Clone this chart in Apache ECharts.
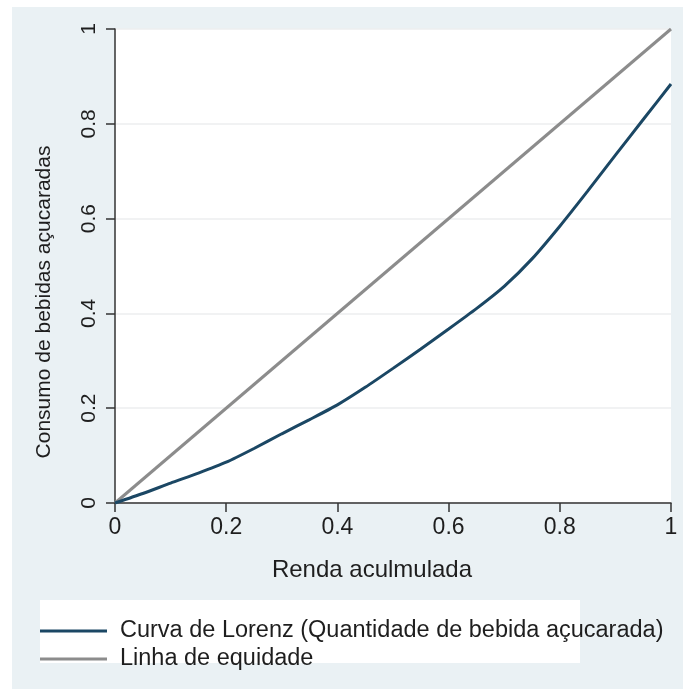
<!DOCTYPE html>
<html>
<head>
<meta charset="utf-8">
<script src="https://cdn.jsdelivr.net/npm/echarts@6/dist/echarts.min.js"></script>
<style>
  html, body { margin: 0; padding: 0; background: #ffffff; }
  #chart { width: 683px; height: 689px; }
</style>
</head>
<body>
<div id="chart"></div>
<script>
// 누적 소득 비율 (x)
const rendaAcumulada = [0, 0.05, 0.1, 0.15, 0.2, 0.25, 0.3, 0.35, 0.4, 0.45, 0.5, 0.55, 0.6, 0.65, 0.7, 0.75, 0.8, 0.85, 0.9, 0.95, 1];
// 로렌츠 곡선 값 (y)
const curvaLorenz = [0, 0.02, 0.042, 0.063, 0.086, 0.115, 0.146, 0.176, 0.207, 0.244, 0.284, 0.325, 0.367, 0.41, 0.457, 0.515, 0.584, 0.658, 0.734, 0.809, 0.884];
// 균등선
const equidadeX = [0, 1];
const equidadeY = [0, 1];

const COLORS = {
  bg:     "#eaf1f4",
  lorenz: "#1b4764",
  equal:  "#8c8c8c",
  axis:   "#333333",
  grid:   "#eceeef",
  text:   "#1e1e1e",
};
const FONT = '"Liberation Sans", Arial, sans-serif';

const fmt = (v) => (v === 0 || v === 1 ? String(v) : v.toFixed(1));

const chart = echarts.init(document.getElementById("chart"), null, { renderer: "canvas" });

chart.setOption({
  backgroundColor: "#ffffff",
  animation: false,
  textStyle: { fontFamily: FONT, color: COLORS.text },
  graphic: [
    { type: "rect", z: -10, shape: { x: 12, y: 7, width: 671, height: 682 }, style: { fill: COLORS.bg } },
    { type: "rect", z: -5, shape: { x: 40, y: 600, width: 540, height: 63 }, style: { fill: "#ffffff" } },
  ],
  grid: {
    left: 115, right: 12, top: 29, bottom: 186,
    show: true, backgroundColor: "#ffffff", borderWidth: 0,
  },
  legend: {
    orient: "vertical",
    left: 35, top: 614,
    icon: "rect",
    itemWidth: 67, itemHeight: 3,
    itemGap: 4,
    textStyle: { fontFamily: FONT, fontSize: 23.5, color: COLORS.text, padding: [0, 0, 0, 8] },
    data: ["Curva de Lorenz (Quantidade de bebida açucarada)", "Linha de equidade"],
  },
  xAxis: {
    type: "value", min: 0, max: 1, interval: 0.2,
    name: "Renda aculmulada",
    nameLocation: "middle", nameGap: 55,
    nameTextStyle: { fontFamily: FONT, fontSize: 24, color: COLORS.text, padding: [0, 42, 0, 0] },
    axisLine: { show: true, lineStyle: { color: COLORS.axis, width: 1.5 } },
    axisTick: { show: true, inside: false, length: 9, lineStyle: { color: COLORS.axis, width: 1.5 } },
    axisLabel: { fontFamily: FONT, fontSize: 23, color: COLORS.text, margin: 13, formatter: fmt },
    splitLine: { show: false },
  },
  yAxis: {
    type: "value", min: 0, max: 1, interval: 0.2,
    name: "Consumo de bebidas açucaradas",
    nameLocation: "middle", nameGap: 60, nameRotate: 90,
    nameTextStyle: { fontFamily: FONT, fontSize: 21, color: COLORS.text, padding: [0, 72, 0, 0] },
    axisLine: { show: true, lineStyle: { color: COLORS.axis, width: 1.5 } },
    axisTick: { show: true, inside: false, length: 9, lineStyle: { color: COLORS.axis, width: 1.5 } },
    axisLabel: { fontFamily: FONT, fontSize: 21, color: COLORS.text, margin: 15, rotate: 90, formatter: fmt },
    splitLine: { show: true, lineStyle: { color: COLORS.grid, width: 1.5 } },
  },
  series: [
    {
      name: "Curva de Lorenz (Quantidade de bebida açucarada)",
      type: "line",
      data: rendaAcumulada.map((x, i) => [x, curvaLorenz[i]]),
      smooth: 0.2,
      showSymbol: false,
      lineStyle: { color: COLORS.lorenz, width: 3 },
      itemStyle: { color: COLORS.lorenz },
      z: 3,
    },
    {
      name: "Linha de equidade",
      type: "line",
      data: equidadeX.map((x, i) => [x, equidadeY[i]]),
      showSymbol: false,
      lineStyle: { color: COLORS.equal, width: 3 },
      itemStyle: { color: COLORS.equal },
      z: 2,
    },
  ],
});
</script>
</body>
</html>
